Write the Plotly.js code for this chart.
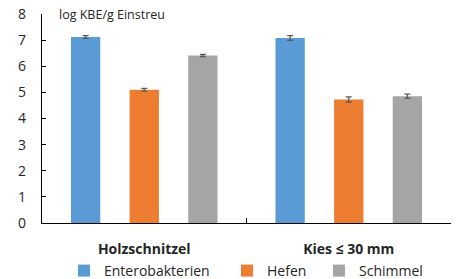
<!DOCTYPE html>
<html><head><meta charset="utf-8">
<script src="https://cdn.plot.ly/plotly-3.0.1.min.js"></script>
<style>html,body{margin:0;padding:0;background:#fff}</style>
</head><body><div id="chart" style="width:457px;height:279px"></div>
<script>
const categories = ["Holzschnitzel", "Kies ≤ 30 mm"];
const seriesNames = ["Enterobakterien", "Hefen", "Schimmel"];
const enterobakterien = [7.12, 7.08];
const enterobakterienErr = [0.05, 0.09];
const hefen = [5.1, 4.73];
const hefenErr = [0.05, 0.1];
const schimmel = [6.41, 4.85];
const schimmelErr = [0.04, 0.08];
const colors = ["#5B9BD5", "#ED7D31", "#A5A5A5"];
const yTicks = [0,1,2,3,4,5,6,7,8];

const W = 457, H = 279;
const vals = [enterobakterien, hefen, schimmel];
const errs = [enterobakterienErr, hefenErr, schimmelErr];
const legendIds = ['legend', 'legend2', 'legend3'];
const legendX = [64, 227, 319];
const traces = seriesNames.map((n,i)=>({
  type:'bar', name:n, x:categories, y:vals[i],
  marker:{color:colors[i]},
  legend: legendIds[i],
  error_y:{type:'data', array:errs[i], visible:true, color:'#595959', thickness:1.3, width:3}
}));
const legendBase = {orientation:'h', xref:'container', yref:'container', xanchor:'left',
  y:1-271/H, yanchor:'middle', font:{size:14, color:'#262626'}, itemwidth:30,
  bgcolor:'rgba(0,0,0,0)'};
const layout = {
  width:W, height:H,
  margin:{l:42, r:6, t:14, b:56, autoexpand:false},
  paper_bgcolor:'#fff', plot_bgcolor:'#fff',
  font:{family:'"Open Sans", sans-serif', color:'#262626'},
  barmode:'group', bargap:0.14, bargroupgap:0.5,
  showlegend:true,
  xaxis:{showline:true, linecolor:'#000', linewidth:1.3, ticks:'inside', tickson:'boundaries',
         ticklen:5, tickcolor:'#000', tickfont:{size:14, color:'#262626', weight:'bold'},
         ticklabelstandoff:13, showgrid:false},
  yaxis:{range:[0,8], tickvals:yTicks, showline:true, linecolor:'#000', linewidth:1.3,
         ticks:'inside', ticklen:4, tickcolor:'#000', tickfont:{size:14, color:'#262626'},
         ticklabelstandoff:12, showgrid:false, zeroline:false},
  annotations:[{text:'log KBE/g Einstreu', xref:'paper', yref:'paper', x:0.036, y:1.0,
    xanchor:'left', yanchor:'middle', showarrow:false, font:{size:12.5, color:'#262626'}}]
};
legendIds.forEach((id,i)=>{ layout[id] = Object.assign({}, legendBase, {x: legendX[i]/W}); });
Plotly.newPlot('chart', traces, layout, {displayModeBar:false, staticPlot:true});
</script></body></html>
